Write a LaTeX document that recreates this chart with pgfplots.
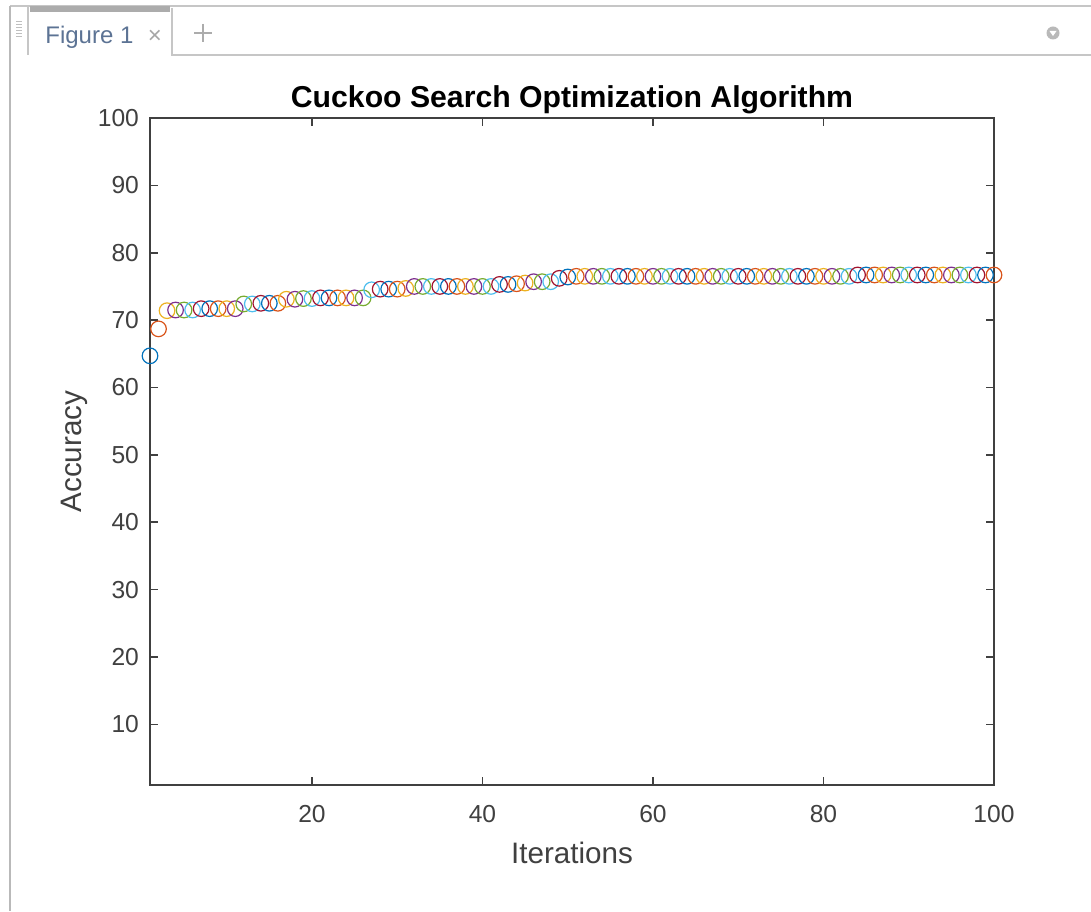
\documentclass[border=0pt]{standalone}
\usepackage{pgfplots}
\pgfplotsset{compat=1.18}
\usepackage{pgfplotstable}
\usepackage{fontspec}
\setmainfont{Liberation Sans}
\definecolor{axgray}{gray}{0.25}
\definecolor{tabtext}{rgb}{0.36,0.45,0.58}
\definecolor{mblue}{rgb}{0,0.447,0.741}
\definecolor{morange}{rgb}{0.85,0.325,0.098}
\definecolor{myellow}{rgb}{0.929,0.694,0.125}
\definecolor{mpurple}{rgb}{0.494,0.184,0.556}
\definecolor{mgreen}{rgb}{0.466,0.674,0.188}
\definecolor{mcyan}{rgb}{0.301,0.745,0.933}
\definecolor{mred}{rgb}{0.635,0.078,0.184}
\pgfplotstableread{
x y c
1 64.7 a
2 68.7 b
3 71.4 c
4 71.5 d
5 71.5 e
6 71.5 f
7 71.7 g
8 71.7 a
9 71.7 b
10 71.7 c
11 71.7 d
12 72.4 e
13 72.4 f
14 72.5 g
15 72.5 a
16 72.5 b
17 73.1 c
18 73.1 d
19 73.2 e
20 73.2 f
21 73.3 g
22 73.3 a
23 73.3 b
24 73.3 c
25 73.3 d
26 73.3 e
27 74.5 f
28 74.6 g
29 74.6 a
30 74.6 b
31 74.7 c
32 75.0 d
33 75.0 e
34 75.0 f
35 75.0 g
36 75.0 a
37 75.0 b
38 75.0 c
39 75.0 d
40 75.0 e
41 75.0 f
42 75.3 g
43 75.3 a
44 75.4 b
45 75.5 c
46 75.7 d
47 75.7 e
48 75.7 f
49 76.2 g
50 76.4 a
51 76.5 b
52 76.5 c
53 76.5 d
54 76.5 e
55 76.5 f
56 76.5 g
57 76.5 a
58 76.5 b
59 76.5 c
60 76.5 d
61 76.5 e
62 76.5 f
63 76.5 g
64 76.5 a
65 76.5 b
66 76.5 c
67 76.5 d
68 76.5 e
69 76.5 f
70 76.5 g
71 76.5 a
72 76.5 b
73 76.5 c
74 76.5 d
75 76.5 e
76 76.5 f
77 76.5 g
78 76.5 a
79 76.5 b
80 76.5 c
81 76.5 d
82 76.5 e
83 76.5 f
84 76.7 g
85 76.7 a
86 76.7 b
87 76.7 c
88 76.7 d
89 76.7 e
90 76.7 f
91 76.7 g
92 76.7 a
93 76.7 b
94 76.7 c
95 76.7 d
96 76.7 e
97 76.7 f
98 76.7 g
99 76.7 a
100 76.7 b
}\csdata
\begin{document}
\begin{tikzpicture}
\begin{scope}[x=0.5pt,y=-0.5pt,yshift=455.5pt]
\useasboundingbox (0,0) rectangle (1091,911);
\fill[white] (0,0) rectangle (1091,911);
\draw[gray!45,line width=0.8pt] (10,6) -- (1091,6);
\draw[gray!55,line width=0.6pt] (10,6) -- (10,911);
\draw[gray!45,line width=0.6pt] (28,6) -- (28,55);
\draw[gray!45,line width=0.6pt] (172,8) -- (172,55) -- (1091,55);
\fill[gray!65] (30,6) rectangle (170,12);
\foreach \yy in {22,25,28,31,34,37} {\draw[gray!50,line width=0.5pt] (16,\yy) -- (22,\yy);}
\node[anchor=base west,inner sep=0pt,text=tabtext,font=\fontsize{12}{14}\selectfont] at (45,44) {Figure 1};
\node[anchor=center,inner sep=0pt,text=gray!70,font=\fontsize{12}{14}\selectfont] at (155,37) {×};
\draw[gray!65,line width=1.2pt] (194,33) -- (212,33) (203,24) -- (203,42);
\fill[gray!55] (1053,33) circle (6.5);
\fill[white] (1049.5,31) -- (1056.5,31) -- (1053,36) -- cycle;
\end{scope}
\begin{axis}[
  at={(75pt,63pt)}, anchor=south west,
  scale only axis, width=422pt, height=333.5pt,
  xmin=1, xmax=100, ymin=1, ymax=100,
  xtick={20,40,60,80,100}, ytick={10,20,30,40,50,60,70,80,90,100},
  tick align=inside, major tick length=4pt,
  axis line style={line width=0.8pt, color=axgray},
  every tick/.style={line width=0.8pt, color=axgray},
  tick label style={font=\fontsize{12.3}{14}\selectfont, text=axgray},
  /pgf/number format/assume math mode=true,
  yticklabel style={xshift=-2pt},
  xticklabel style={yshift=-6.5pt},
  every axis title shift=0pt,
  title={Cuckoo Search Optimization Algorithm},
  title style={font=\bfseries\fontsize{15.1}{17}\selectfont, at={(axis description cs:0.5,1.027)}, anchor=center},
  xlabel={Iterations}, ylabel={Accuracy},
  xlabel style={font=\fontsize{14.8}{17}\selectfont, text=axgray, at={(axis description cs:0.5,-0.102)}, anchor=center},
  ylabel style={font=\fontsize{14.8}{17}\selectfont, text=axgray, at={(axis description cs:-0.09,0.5)}, anchor=center, rotate=0},
  clip=false,
  scatter/classes={
    a={mark=o,draw=mblue,line width=0.6pt},
    b={mark=o,draw=morange,line width=0.6pt},
    c={mark=o,draw=myellow,line width=0.6pt},
    d={mark=o,draw=mpurple,line width=0.6pt},
    e={mark=o,draw=mgreen,line width=0.6pt},
    f={mark=o,draw=mcyan,line width=0.6pt},
    g={mark=o,draw=mred,line width=0.6pt}}
]
\addplot[scatter, only marks, mark size=3.9pt, scatter src=explicit symbolic] table[x=x,y=y,meta=c] {\csdata};
\end{axis}
\end{tikzpicture}
\end{document}
